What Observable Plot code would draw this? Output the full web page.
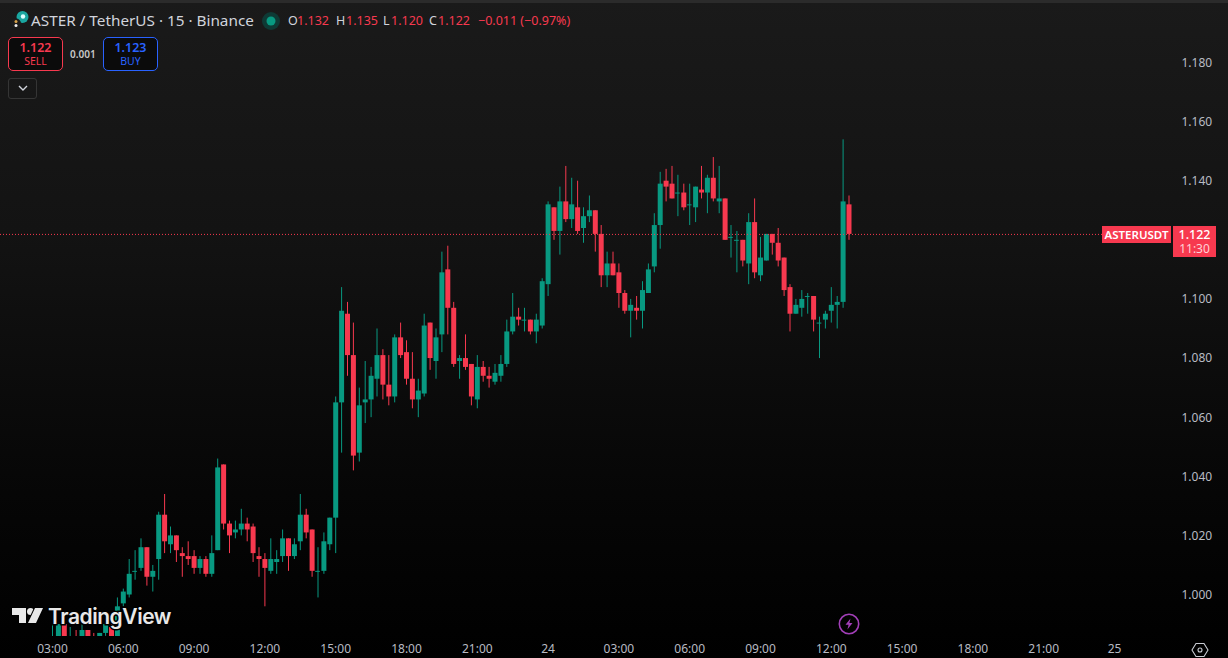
<!DOCTYPE html>
<html><head><meta charset="utf-8">
<script src="https://cdn.jsdelivr.net/npm/d3@7"></script>
<script src="https://cdn.jsdelivr.net/npm/@observablehq/plot@0.6"></script>
<style>
html,body{margin:0;padding:0;width:1228px;height:658px;overflow:hidden;background:#000}
#wrap{position:relative;width:1228px;height:658px;background:linear-gradient(#1a1a1a 0,#131313 35%,#060606 75%,#000 100%);font-family:"Noto Sans",sans-serif;color:#d1d4dc}
#wrap>svg,#chart svg{position:absolute;left:0;top:0;background:transparent}
.a{position:absolute;white-space:nowrap;line-height:1}
.box{position:absolute;box-sizing:border-box;width:55px;height:34px;top:37px;border:1px solid;border-radius:5px;background:#0b0b0b;text-align:center}
.box b{display:block;font-size:12.5px;font-weight:600;margin-top:2px;line-height:15px}
.box span{display:block;font-size:10.5px;line-height:12px}
</style></head><body>
<div id="wrap">
<div id="chart"></div>
<div class="a" style="left:0;top:0;width:1228px;height:3px;background:#2b2b2b"></div>
<svg width="30" height="20" style="left:8px;top:10px" viewBox="0 0 30 20"><circle cx="14.5" cy="7" r="6" fill="#1aa6a0"/><circle cx="15" cy="6.5" r="2.2" fill="#dff"/><circle cx="8" cy="13.5" r="5" fill="#1c1c1c"/><circle cx="8" cy="11.5" r="1.5" fill="#d8a24a"/><circle cx="8" cy="15.5" r="1.5" fill="#eee"/></svg>
<div class="a" id="name" style="left:31px;top:13px;font-size:15.3px">ASTER / TetherUS · 15 · Binance</div>
<svg width="20" height="20" style="left:261px;top:11px"><circle cx="10" cy="10" r="9" fill="#0e3a35"/><circle cx="10" cy="10" r="4.5" fill="#089981"/></svg>
<div id="ohlc"></div>
<div class="box" style="left:8px;border-color:#f7394f;color:#f7394f"><b id="sell"></b><span>SELL</span></div>
<div class="a" id="spread" style="left:70px;top:49px;font-size:10px;font-weight:600;color:#c8c8c8"></div>
<div class="box" style="left:103px;border-color:#2962ff;color:#2962ff"><b id="buy"></b><span>BUY</span></div>
<div class="a" style="left:8px;top:78px;width:27px;height:19px;border:1px solid #353535;border-radius:3px"></div>
<svg width="12" height="8" style="left:17px;top:84px"><path d="M2 2 L6 6 L10 2" fill="none" stroke="#d1d4dc" stroke-width="1.4"/></svg>
<svg width="34" height="18" style="left:11px;top:607px;overflow:visible" viewBox="0 0 34 18"><g style="paint-order:stroke" fill="#e8e8e8" stroke="#000" stroke-width="2"><path d="M1 1 H15 V16 H8 V8 H1 Z"/><circle cx="19.5" cy="4.5" r="3.5"/><path d="M24 1 H32 L25 16 H17 Z"/></g></svg>
<div class="a" style="left:48px;top:604px;font:600 21px Inter,sans-serif;letter-spacing:-.45px;color:#e8e8e8;-webkit-text-stroke:3px #000;paint-order:stroke fill">TradingView</div>
<div class="a" id="sym" style="left:1102px;top:226px;width:69px;height:17px;background:#f7394f;color:#fff;font-size:11.5px;font-weight:600;line-height:17px;text-align:center">ASTERUSDT</div>
<div class="a" style="left:1173px;top:226px;width:43px;height:31px;background:#f7394f;text-align:center"><div id="last" style="color:#fff;font-size:12.5px;line-height:17px;font-weight:500"></div><div style="color:#ffd0d6;font-size:12px;line-height:12px">11:30</div></div>
<svg width="24" height="24" style="left:837px;top:612px"><circle cx="12" cy="12" r="9.7" fill="none" stroke="#a23fb8" stroke-width="1.6"/><path d="M13.5 6.5 L8.5 12.8 H11.6 L10.4 17.4 L15.5 11 H12.4 Z" fill="#a23fb8"/></svg>
<svg width="20" height="18" style="left:1191px;top:641px"><path d="M5 2.5 H13 L17 9 L13 15.5 H5 L1 9 Z" fill="none" stroke="#c9ccd3" stroke-width="1.1"/><circle cx="9" cy="9" r="2" fill="none" stroke="#c9ccd3" stroke-width="1.1"/></svg>
</div>
<script>
const open = [.982,.984,.990,.983,.985,.983,.988,.985,.984,.987,.989,.985,.997,1.000,1.008,1.009,1.016,1.006,1.012,1.027,1.017,1.020,1.014,1.013,1.013,1.009,1.012,1.007,1.015,1.044,1.024,1.021,1.022,1.024,1.023,1.013,1.012,1.008,1.011,1.013,1.019,1.013,1.018,1.027,1.022,1.008,1.008,1.017,1.026,1.065,1.095,1.081,1.048,1.065,1.066,1.073,1.081,1.071,1.067,1.087,1.082,1.073,1.066,1.068,1.092,1.079,1.088,1.110,1.097,1.079,1.080,1.078,1.066,1.077,1.074,1.072,1.074,1.078,1.089,1.094,1.093,1.093,1.089,1.091,1.105,1.131,1.123,1.133,1.127,1.131,1.124,1.128,1.130,1.122,1.108,1.112,1.109,1.102,1.096,1.097,1.096,1.102,1.111,1.125,1.140,1.139,1.136,1.136,1.132,1.131,1.137,1.136,1.141,1.133,1.134,1.121,1.120,1.120,1.112,1.126,1.108,1.113,1.122,1.119,1.114,1.104,1.095,1.097,1.101,1.101,1.092,1.093,1.096,1.098,1.099,1.132];
const high = [.990,.990,.991,.989,.988,.990,.988,.987,.987,.991,.990,.999,1.002,1.012,1.015,1.019,1.016,1.010,1.028,1.034,1.023,1.020,1.016,1.018,1.015,1.013,1.013,1.020,1.046,1.044,1.025,1.025,1.029,1.026,1.024,1.016,1.014,1.019,1.015,1.022,1.019,1.019,1.034,1.029,1.022,1.016,1.021,1.026,1.067,1.104,1.099,1.092,1.070,1.079,1.077,1.090,1.083,1.081,1.088,1.092,1.086,1.082,1.073,1.095,1.092,1.090,1.116,1.118,1.099,1.081,1.088,1.078,1.081,1.079,1.077,1.078,1.081,1.093,1.102,1.097,1.097,1.093,1.095,1.107,1.133,1.131,1.138,1.145,1.141,1.140,1.131,1.135,1.130,1.125,1.116,1.116,1.112,1.103,1.100,1.101,1.106,1.112,1.129,1.143,1.144,1.145,1.142,1.139,1.139,1.138,1.145,1.142,1.148,1.145,1.134,1.125,1.123,1.120,1.129,1.134,1.121,1.122,1.122,1.124,1.114,1.105,1.100,1.103,1.102,1.101,1.094,1.096,1.104,1.101,1.154,1.135];
const low = [.980,.984,.984,.982,.982,.982,.983,.983,.983,.986,.984,.984,.996,.999,1.005,1.008,1.003,1.001,1.005,1.014,1.014,1.011,1.006,1.010,1.007,1.007,1.006,1.006,1.015,1.022,1.014,1.019,1.020,1.018,1.011,1.006,.996,1.007,1.007,1.011,1.008,1.012,1.015,1.019,1.006,.999,1.007,1.015,1.014,1.048,1.074,1.042,1.045,1.058,1.060,1.067,1.066,1.064,1.065,1.080,1.071,1.063,1.060,1.067,1.076,1.073,1.082,1.088,1.077,1.073,1.076,1.064,1.063,1.072,1.070,1.071,1.072,1.077,1.088,1.091,1.089,1.088,1.085,1.090,1.101,1.120,1.115,1.126,1.124,1.122,1.119,1.126,1.116,1.104,1.104,1.108,1.097,1.095,1.087,1.093,1.090,1.102,1.109,1.117,1.133,1.134,1.128,1.130,1.125,1.126,1.134,1.129,1.133,1.129,1.120,1.114,1.109,1.111,1.105,1.107,1.106,1.113,1.115,1.111,1.101,1.089,1.095,1.094,1.095,1.089,1.080,1.090,1.092,1.090,1.097,1.120];
const close = [.984,.990,.984,.985,.983,.988,.984,.984,.987,.990,.985,.996,1.001,1.007,1.008,1.016,1.006,1.008,1.027,1.018,1.020,1.015,1.013,1.012,1.009,1.012,1.007,1.014,1.043,1.024,1.020,1.022,1.024,1.022,1.014,1.012,1.009,1.012,1.012,1.019,1.013,1.017,1.027,1.021,1.008,1.008,1.018,1.026,1.065,1.096,1.081,1.047,1.064,1.066,1.074,1.081,1.071,1.067,1.087,1.081,1.073,1.066,1.069,1.091,1.080,1.087,1.109,1.097,1.078,1.080,1.077,1.067,1.077,1.074,1.073,1.075,1.078,1.089,1.094,1.093,1.093,1.089,1.093,1.106,1.132,1.123,1.133,1.127,1.132,1.123,1.128,1.130,1.122,1.108,1.112,1.108,1.102,1.096,1.098,1.096,1.103,1.110,1.125,1.139,1.138,1.134,1.136,1.131,1.132,1.138,1.136,1.141,1.134,1.134,1.120,1.121,1.120,1.113,1.126,1.109,1.114,1.122,1.119,1.113,1.103,1.095,1.098,1.100,1.101,1.093,1.092,1.095,1.098,1.099,1.133,1.122];
const priceTicks = [1.000,1.020,1.040,1.060,1.080,1.100,1.140,1.160,1.180];
const timeLabels = ["03:00","06:00","09:00","12:00","15:00","18:00","21:00","24","03:00","06:00","09:00","12:00","15:00","18:00","21:00","25"];
const header = {o:"1.132",h:"1.135",l:"1.120",c:"1.122",chg:"−0.011 (−0.97%)"};

const START = Date.UTC(2025,8,23,3,0);
const BAR = 15*60000;
const bars = close.map((c,i)=>({t:new Date(START+i*BAR),o:open[i],h:high[i],l:low[i],c,
  t1:new Date(START+i*BAR-0.4*BAR),t2:new Date(START+i*BAR+0.4*BAR)}));
const tickDates = timeLabels.map((_,k)=>new Date(START+k*12*BAR));
const labelOf = d=>timeLabels[Math.round((+d-START)/(12*BAR))];
const TEAL="#089981", RED="#f7394f";
const col = d=>d.c>=d.o?TEAL:RED;
const lastClose = close[close.length-1];

const plot = Plot.plot({
  width:1228,height:658,marginLeft:0,marginTop:0,marginRight:56,marginBottom:22,
  style:{background:"transparent",fontFamily:"'Noto Sans',sans-serif",fontSize:"12px",color:"#b8bbc3"},
  x:{type:"utc",domain:[new Date(START-8.814*BAR),new Date(START+189.83*BAR)],range:[0,1172]},
  y:{domain:[0.98596,1.20114],range:[636,0]},
  marks:[
    Plot.ruleX(bars,{x:"t",y1:"l",y2:"h",stroke:col,strokeWidth:1,clip:true}),
    Plot.ruleX(bars.filter(d=>d.o!==d.c),{x:"t",y1:"o",y2:"c",stroke:col,strokeWidth:5,clip:true}),
    Plot.ruleY(bars.filter(d=>d.o===d.c),{y:"o",x1:"t1",x2:"t2",stroke:col,strokeWidth:1,clip:true}),
    Plot.ruleY([lastClose],{stroke:RED,strokeWidth:1,strokeDasharray:"1 2"}),
    Plot.axisX({ticks:tickDates,tickFormat:labelOf,tickSize:0,tickPadding:8,label:null,anchor:"bottom",fill:"#b8bbc3"}),
    Plot.axisY({ticks:priceTicks,tickFormat:d3.format(".3f"),tickSize:0,tickPadding:9,label:null,anchor:"right",fill:"#b8bbc3"})
  ]
});
document.getElementById("chart").appendChild(plot);
document.getElementById("sell").textContent=lastClose.toFixed(3);
document.getElementById("buy").textContent="1.123";
document.getElementById("spread").textContent="0.001";
document.getElementById("last").textContent=lastClose.toFixed(3);
const parts=[[288,"O","#d1d4dc"],[297,header.o,RED],[336,"H","#d1d4dc"],[346,header.h,RED],[383,"L","#d1d4dc"],[391,header.l,RED],[429,"C","#d1d4dc"],[438,header.c,RED],[478,header.chg,RED]];
const oh=document.getElementById("ohlc");
parts.forEach(([x,t,c])=>{const s=document.createElement("div");s.className="a";s.style.cssText=`left:${x}px;top:15px;font-size:12.5px;color:${c}`;s.textContent=t;oh.appendChild(s);});
</script>
</body></html>
